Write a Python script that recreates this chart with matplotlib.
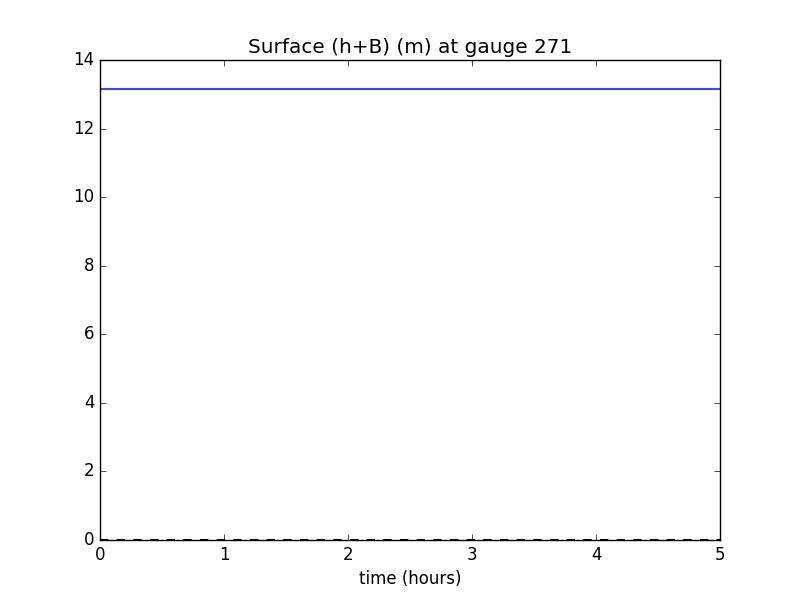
import matplotlib
matplotlib.use("Agg")
import matplotlib.pyplot as plt

plt.style.use("classic")

# gauge 271 surface elevation (h+B), constant over the run
t_hours = [0.0, 1.0, 2.0, 3.0, 4.0, 5.0]
surface = [13.15, 13.15, 13.15, 13.15, 13.15, 13.15]
sea_level = [0.0, 0.0, 0.0, 0.0, 0.0, 0.0]
gauge_id = 271

fig, ax = plt.subplots(figsize=(8, 6), dpi=100)
ax.plot(t_hours, surface, "b-", linewidth=1.5, alpha=0.75)
ax.plot(t_hours, sea_level, "k--", linewidth=1.5, zorder=3)
ax.set_xlim(0, 5)
ax.set_ylim(0, 14)
ax.set_xlabel("time (hours)")
ax.set_title(f"Surface (h+B) (m) at gauge {gauge_id}")

fig.savefig("out.png", dpi=100)
plt.close(fig)
